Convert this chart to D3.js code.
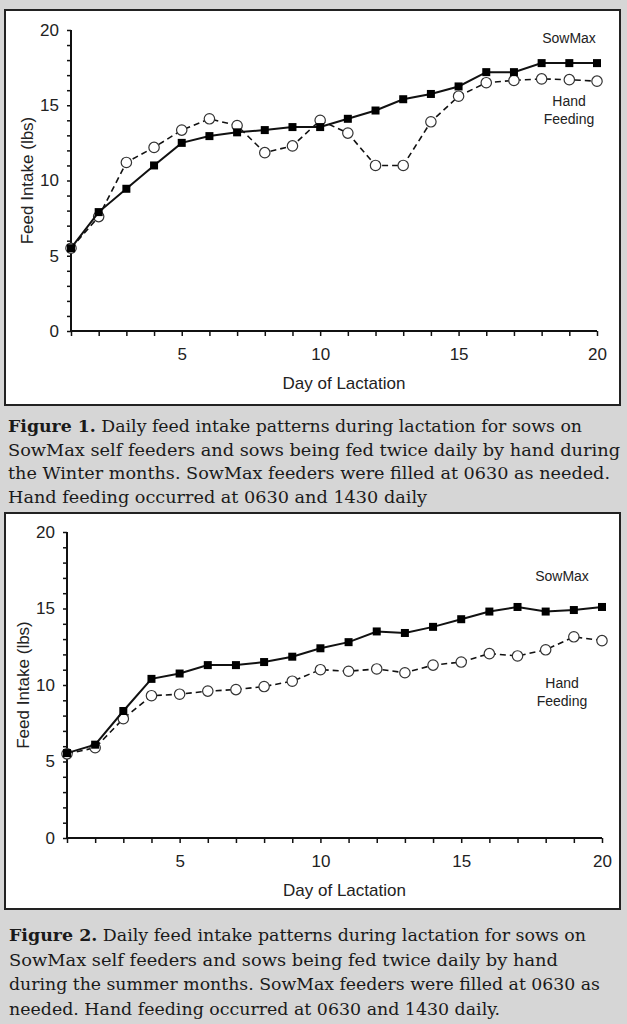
<!DOCTYPE html>
<html lang="en">
<head>
    <meta charset="UTF-8">
    <title>Feed intake</title>
    <style>
        body { margin: 0; background: #d6d6d6; }
        svg { display: block; }
        .axis text { font-family: "Liberation Sans", Arial, sans-serif; font-size: 17px; fill: #222; }
        .axis path, .axis line { stroke: #111; }
        .lbl { font-family: "Liberation Sans", Arial, sans-serif; fill: #222; }
        .cap { font-family: "DejaVu Serif Condensed", "DejaVu Serif", serif; font-size: 17px; fill: #1a1a1a; }
    </style>
</head>
<body>
<svg id="SVG"></svg>
<script src="https://d3js.org/d3.v7.min.js"></script>
<script>
    // data
    var days = d3.range(1, 21);
    var winterSowMax = [5.5, 7.9, 9.45, 11.0, 12.5, 12.95, 13.2, 13.35, 13.55, 13.55, 14.1, 14.65, 15.4, 15.75, 16.25, 17.2, 17.2, 17.8, 17.8, 17.8];
    var winterHand   = [5.5, 7.6, 11.2, 12.2, 13.35, 14.1, 13.65, 11.85, 12.3, 14.0, 13.15, 11.0, 11.0, 13.9, 15.6, 16.5, 16.65, 16.75, 16.7, 16.6];
    var summerSowMax = [5.55, 6.1, 8.3, 10.4, 10.75, 11.3, 11.3, 11.5, 11.85, 12.4, 12.8, 13.5, 13.4, 13.8, 14.3, 14.8, 15.1, 14.8, 14.9, 15.1];
    var summerHand   = [5.5, 5.9, 7.8, 9.3, 9.4, 9.6, 9.7, 9.9, 10.25, 11.0, 10.9, 11.05, 10.8, 11.3, 11.5, 12.05, 11.9, 12.3, 13.15, 12.9];
    var yTicks = d3.range(0, 21);
    var xLabelled = [5, 10, 15, 20];
    var yLabelled = [0, 5, 10, 15, 20];

    var caption1 = [
        ["Figure 1.", " Daily feed intake patterns during lactation for sows on"],
        ["", "SowMax self feeders and sows being fed twice daily by hand during"],
        ["", "the Winter months. SowMax feeders were filled at 0630 as needed."],
        ["", "Hand feeding occurred at 0630 and 1430 daily"]
    ];
    var caption2 = [
        ["Figure 2.", " Daily feed intake patterns during lactation for sows on"],
        ["", "SowMax self feeders and sows being fed twice daily by hand"],
        ["", "during the summer months. SowMax feeders were filled at 0630 as"],
        ["", "needed. Hand feeding occurred at 0630 and 1430 daily."]
    ];

    var width = 627, height = 1024;

    var svg = d3.select("#SVG")
        .attr("width", width)
        .attr("height", height);

    svg.append("rect").attr("width", width).attr("height", height).attr("fill", "#d6d6d6");

    // one panel = white box + axes + two series + labels
    function drawPanel(p) {
        var g = svg.append("g");

        g.append("rect")
            .attr("x", 5).attr("y", p.top)
            .attr("width", 615).attr("height", p.bottom - p.top)
            .attr("fill", "white")
            .attr("stroke", "#222")
            .attr("stroke-width", 2);

        var x = d3.scaleLinear().domain([1, 20]).range([p.x0, p.x1]);
        var y = d3.scaleLinear().domain([0, 20]).range([p.y0, p.y1]);

        g.append("g").attr("class", "axis")
            .attr("transform", `translate(0,${p.y0})`)
            .call(d3.axisBottom(x).tickValues(days).tickSize(5).tickPadding(12)
                .tickFormat(d => xLabelled.includes(d) ? d : ""))
            .call(a => a.select(".domain").attr("stroke-width", 2).attr("d", `M${p.x0},0H${p.x1}`))
            .call(a => a.selectAll(".tick line").attr("stroke-width", 1.5));

        g.append("g").attr("class", "axis")
            .attr("transform", `translate(${p.x0},0)`)
            .call(d3.axisLeft(y).tickValues(yTicks).tickSize(4).tickPadding(8)
                .tickFormat(d => yLabelled.includes(d) ? d : ""))
            .call(a => a.select(".domain").attr("stroke-width", 2).attr("d", `M0,${p.y1}V${p.y0}`))
            .call(a => a.selectAll(".tick line").attr("stroke-width", 1.5));

        g.append("text").attr("class", "lbl")
            .attr("transform", `translate(${p.titleX},${(p.y0 + p.y1) / 2}) rotate(-90)`)
            .attr("text-anchor", "middle")
            .attr("font-size", 17)
            .text("Feed Intake (lbs)");

        g.append("text").attr("class", "lbl")
            .attr("x", (p.x0 + p.x1) / 2 + 10).attr("y", p.y0 + 58)
            .attr("text-anchor", "middle")
            .attr("font-size", 17)
            .text("Day of Lactation");

        var line = d3.line().x((d, i) => x(days[i])).y(d => y(d));

        // hand feeding: dashed, open circles
        g.append("path")
            .attr("d", line(p.hand))
            .attr("fill", "none")
            .attr("stroke", "#111")
            .attr("stroke-width", 1.6)
            .attr("stroke-dasharray", "6,4");

        g.selectAll(".circ")
            .data(p.hand)
            .enter()
            .append("circle")
            .attr("cx", (d, i) => x(days[i]))
            .attr("cy", d => y(d))
            .attr("r", 5.2)
            .attr("fill", "white")
            .attr("stroke", "#333")
            .attr("stroke-width", 1.2);

        // SowMax: solid, filled squares
        g.append("path")
            .attr("d", line(p.sow))
            .attr("fill", "none")
            .attr("stroke", "#111")
            .attr("stroke-width", 2);

        g.selectAll(".sq")
            .data(p.sow)
            .enter()
            .append("rect")
            .attr("x", (d, i) => x(days[i]) - 4)
            .attr("y", d => y(d) - 4)
            .attr("width", 8)
            .attr("height", 8)
            .attr("fill", "#000");

        g.append("text").attr("class", "lbl")
            .attr("x", p.lblX).attr("y", p.sowY)
            .attr("text-anchor", "middle").attr("font-size", 14)
            .text("SowMax");
        g.append("text").attr("class", "lbl")
            .attr("x", p.lblX).attr("y", p.handY)
            .attr("text-anchor", "middle").attr("font-size", 14)
            .text("Hand");
        g.append("text").attr("class", "lbl")
            .attr("x", p.lblX).attr("y", p.handY + 18)
            .attr("text-anchor", "middle").attr("font-size", 14)
            .text("Feeding");
    }

    function drawCaption(lines, x0, base, step, ends) {
        lines.forEach(function (l, i) {
            var t = svg.append("text").attr("class", "cap")
                .attr("x", x0).attr("y", base + i * step)
                .attr("textLength", ends[i] - x0)
                .attr("lengthAdjust", "spacingAndGlyphs");
            if (l[0]) t.append("tspan").attr("font-weight", "bold").text(l[0]);
            t.append("tspan").text(l[1]);
        });
    }

    drawPanel({
        top: 10, bottom: 405,
        x0: 71, x1: 597, y0: 331, y1: 30,
        titleX: 33,
        sow: winterSowMax, hand: winterHand,
        lblX: 569, sowY: 43, handY: 106
    });

    drawPanel({
        top: 513, bottom: 909,
        x0: 67, x1: 602, y0: 838, y1: 532,
        titleX: 29,
        sow: summerSowMax, hand: summerHand,
        lblX: 562, sowY: 581, handY: 688
    });

    drawCaption(caption1, 8, 432, 23.7, [582, 620, 610, 427]);
    drawCaption(caption2, 9, 941, 24.5, [586, 558, 600, 500]);
</script>
</body>
</html>
